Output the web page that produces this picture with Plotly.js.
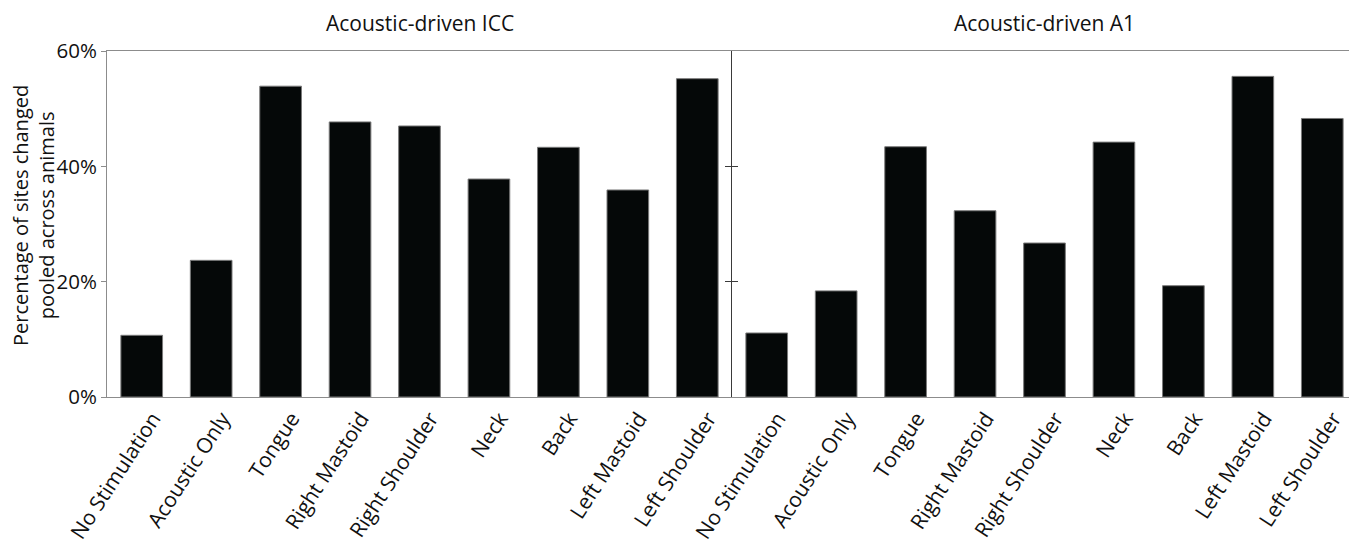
<!DOCTYPE html>
<html>
<head>
<meta charset="utf-8">
<script src="https://cdn.plot.ly/plotly-3.0.1.min.js"></script>
<style>
  html, body { margin: 0; padding: 0; background: #fff; overflow: hidden; }
  #chart { width: 1357px; height: 544px; }
</style>
</head>
<body>
<div id="chart"></div>
<script>
// Stimulation sites (shared by both panels)
const sites = ["No Stimulation", "Acoustic Only", "Tongue", "Right Mastoid",
  "Right Shoulder", "Neck", "Back", "Left Mastoid", "Left Shoulder"];

// Percentage of sites changed, pooled across animals
const iccPct = [10.7, 23.7, 53.9, 47.7, 47.0, 37.8, 43.3, 35.9, 55.2];
const a1Pct  = [11.1, 18.4, 43.4, 32.3, 26.7, 44.2, 19.3, 55.6, 48.3];

const panelTitles = ["Acoustic-driven ICC", "Acoustic-driven A1"];
const yTitle = "Percentage of sites changed<br>pooled across animals";
const yTicks = [0, 20, 40, 60];

const FONT = "Open Sans, Noto Sans, sans-serif";
const frame = "#8c8c8c";

const barStyle = {
  color: "#050808",
  line: { color: "#7a7a7a", width: 1 }
};

const traces = [
  { type: "bar", x: sites, y: iccPct, xaxis: "x", yaxis: "y", marker: barStyle,
    hoverinfo: "x+y" },
  { type: "bar", x: sites, y: a1Pct, xaxis: "x2", yaxis: "y2", marker: barStyle,
    hoverinfo: "x+y" }
];

const xCommon = {
  type: "category",
  showline: true, mirror: true, linecolor: frame, linewidth: 1,
  ticks: "", tickangle: -57, ticklabelshift: 11,
  tickfont: { family: FONT, size: 21, color: "#111" },
  showgrid: false, zeroline: false, fixedrange: true
};

const layout = {
  width: 1357, height: 544,
  margin: { l: 107, r: 0, t: 51, b: 147 },
  paper_bgcolor: "#fff", plot_bgcolor: "#fff",
  showlegend: false,
  bargap: 0.4,
  font: { family: FONT, color: "#111" },
  xaxis: Object.assign({}, xCommon, { domain: [0, 0.5], anchor: "y" }),
  xaxis2: Object.assign({}, xCommon, { domain: [0.5, 1], anchor: "y2" }),
  yaxis: {
    range: [0, 60], tickvals: yTicks, ticktext: yTicks.map(v => v + "%"),
    showline: true, linecolor: frame, linewidth: 1,
    ticks: "outside", ticklen: 5, tickcolor: frame,
    tickfont: { family: FONT, size: 20.5, color: "#111" },
    showgrid: false, zeroline: false, fixedrange: true
  },
  yaxis2: {
    range: [0, 60], anchor: "x2", tickvals: [20, 40],
    showline: true, linecolor: "#3a3a3a", linewidth: 1.5,
    ticks: "outside", ticklen: 6, tickcolor: "#3a3a3a",
    showticklabels: false, showgrid: false, zeroline: false, fixedrange: true
  },
  yaxis3: {
    range: [0, 60], anchor: "x2", overlaying: "y2", tickvals: [20, 40],
    showline: false, ticks: "inside", ticklen: 6, tickcolor: "#3a3a3a",
    showticklabels: false, showgrid: false, zeroline: false, fixedrange: true
  },
  annotations: panelTitles.map((t, i) => ({
    text: t, xref: (i === 0 ? "x" : "x2") + " domain", yref: "paper",
    x: 0.5, y: 1, yshift: 44, showarrow: false,
    font: { family: FONT, size: 21, color: "#111" }
  })).concat([{
    // two-line y-axis title
    text: yTitle, textangle: -90, xref: "paper", yref: "paper",
    x: 0, y: 0.5, xanchor: "center", yanchor: "middle",
    xshift: -74, yshift: 8, showarrow: false, align: "center",
    font: { family: FONT, size: 20, color: "#111" }
  }])
};

// invisible companion trace so the inner tick axis is drawn
traces.push({ type: "bar", x: [sites[0]], y: [0], xaxis: "x2", yaxis: "y3",
  marker: { color: "rgba(0,0,0,0)" }, hoverinfo: "skip", showlegend: false });

Plotly.newPlot("chart", traces, layout, { displayModeBar: false, staticPlot: true });
</script>
</body>
</html>
